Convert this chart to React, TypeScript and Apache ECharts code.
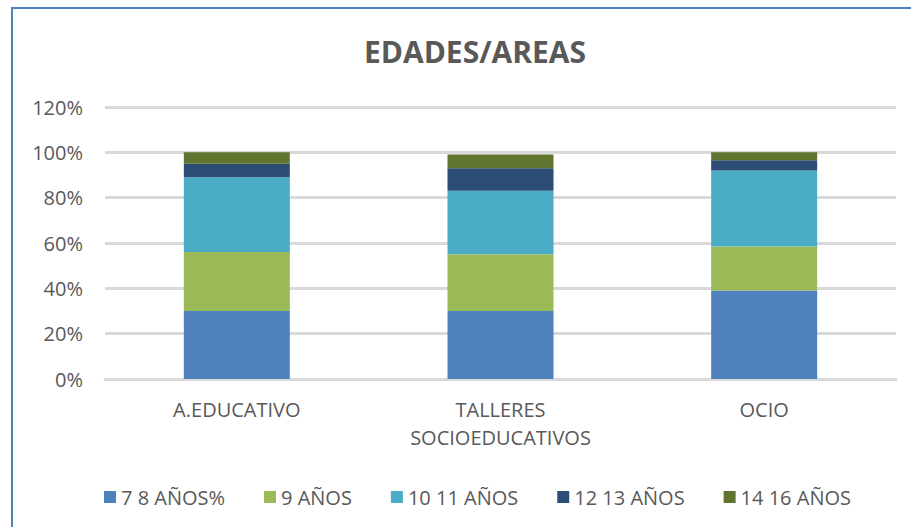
import React, { useEffect, useRef } from "react";
import * as echarts from "echarts";

const categories = ["A.EDUCATIVO", "TALLERES SOCIOEDUCATIVOS", "OCIO"];
const seriesNames = ["7 8 AÑOS%", "9 AÑOS", "10 11 AÑOS", "12 13 AÑOS", "14 16 AÑOS"];
const age7to8 = [30, 30, 39];
const age9 = [26, 25, 19.5];
const age10to11 = [33, 28, 33.5];
const age12to13 = [6, 10, 4.5];
const age14to16 = [5, 6, 3.5];
const seriesValues = [age7to8, age9, age10to11, age12to13, age14to16];
const colors = ["#4f81bd", "#9bbb59", "#4bacc6", "#2c4d75", "#5f7530"];

const FONT = "'Open Sans', sans-serif";
const TEXT = "#595959";

export default function App() {
  const ref = useRef<HTMLDivElement>(null);
  useEffect(() => {
    if (!ref.current) return;
    const chart = echarts.init(ref.current, null, { renderer: "svg" });
    chart.setOption({
      animation: false,
      backgroundColor: "#ffffff",
      title: {
        text: "EDADES/AREAS",
        left: 470,
        textAlign: "center",
        top: 31,
        textStyle: { fontFamily: FONT, fontSize: 30, fontWeight: "bold", color: TEXT },
      },
      graphic: [
        {
          type: "rect",
          shape: { x: 12, y: 8, width: 960, height: 600 },
          style: { fill: "none", stroke: "#4f81bd", lineWidth: 2 },
          silent: true,
        },
      ],
      legend: {
        left: 99,
        top: 482,
        itemWidth: 12,
        itemHeight: 12,
        itemGap: 39,
        icon: "rect",
        textStyle: { fontFamily: FONT, fontSize: 20, color: TEXT },
        data: seriesNames,
      },
      grid: { left: 105, right: 15, top: 107, bottom: 148 },
      xAxis: {
        type: "category",
        data: categories,
        axisLine: { show: true, lineStyle: { color: "#d9d9d9", width: 3 } },
        axisTick: { show: false },
        axisLabel: {
          fontFamily: FONT,
          fontSize: 20,
          color: TEXT,
          margin: 16,
          lineHeight: 28,
          interval: 0,
          formatter: (v: string) => v.replace(" ", "\n"),
        },
      },
      yAxis: {
        type: "value",
        min: 0,
        max: 120,
        interval: 20,
        axisLine: { show: false },
        axisTick: { show: false },
        splitLine: { lineStyle: { color: "#d9d9d9", width: 3 } },
        axisLabel: {
          fontFamily: FONT,
          fontSize: 20,
          color: TEXT,
          margin: 22,
          formatter: "{value}%",
        },
      },
      series: seriesNames.map((name, i) => ({
        name,
        type: "bar",
        stack: "total",
        barWidth: 106,
        itemStyle: { color: colors[i] },
        data: seriesValues[i],
      })),
    });
    return () => chart.dispose();
  }, []);
  return (
    <div
      ref={ref}
      style={{ position: "fixed", left: 0, top: 0, width: 911, height: 527, background: "#fff" }}
    />
  );
}
